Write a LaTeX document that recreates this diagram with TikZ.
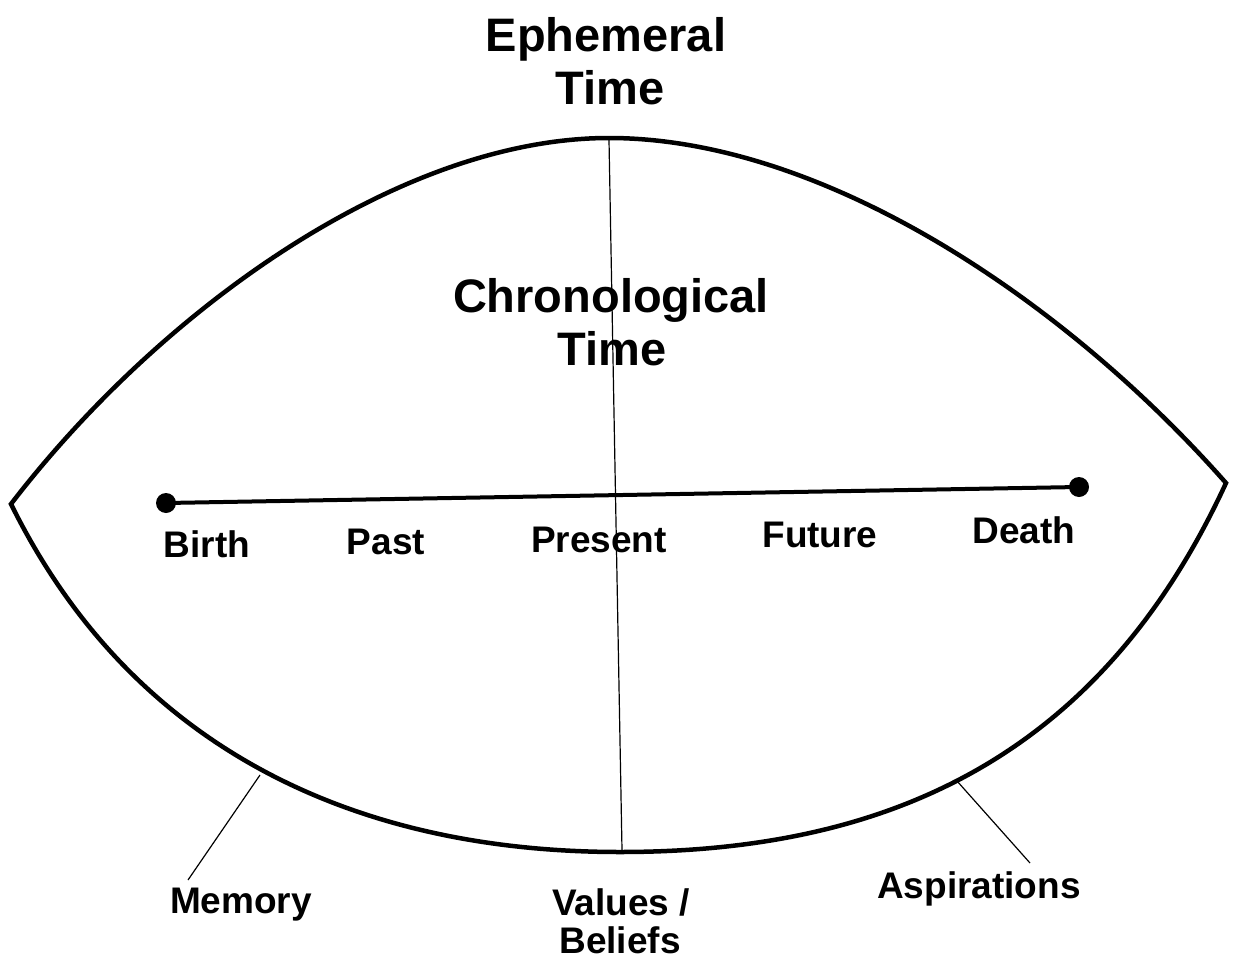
\documentclass[tikz,border=0pt]{standalone}
\usepackage{fontspec}
\setmainfont{Liberation Sans}
\begin{document}
\begin{tikzpicture}[x=1pt,y=-1pt,
  big/.style={font=\bfseries\fontsize{47}{53}\selectfont, inner sep=0pt, anchor=base},
  lab/.style={font=\bfseries\fontsize{37}{42}\selectfont, inner sep=0pt, anchor=base},
  outline/.style={line width=4.5pt, line join=miter},
  thin/.style={line width=1.2pt},
  dotn/.style={circle, fill=black, minimum size=20pt, inner sep=0pt}]
\useasboundingbox (0,0) rectangle (1235,961);
\fill[white] (0,0) rectangle (1235,961);
% tips and extremes
\coordinate (L) at (11,504);
\coordinate (R) at (1226,483);
\coordinate (T) at (609,138);
\coordinate (B) at (620,852);
% lens outline
\draw[outline] (L) .. controls (161,309) and (400,138) .. (T)
  .. controls (820,138) and (1061,296) .. (R)
  .. controls (1100,756) and (890,852) .. (B)
  .. controls (350,852) and (130,745) .. (L) -- cycle;
% vertical axis
\coordinate (vtop) at (609,140);
\coordinate (vbot) at (622,850);
\draw[thin] (vtop) -- (vbot);
% timeline
\node[dotn] (bdot) at (166,503) {};
\node[dotn] (ddot) at (1079,487) {};
\draw[line width=4pt] (bdot.center) -- (ddot.center);
% titles
\node[big] (eph) at (606,51) {Ephemeral};
\node[big] (eph2) at (610,104) {Time};
\node[big] (chr) at (611,312) {Chronological};
\node[big] (chr2) at (612,365) {Time};
% timeline labels
\node[lab] (birth) at (207,557) {Birth};
\node[lab] (past) at (386,554) {Past};
\node[lab] (present) at (599,552) {Present};
\node[lab] (future) at (820,547) {Future};
\node[lab] (death) at (1024,543) {Death};
% bottom labels
\node[lab] (memory) at (241,913) {Memory};
\node[lab] (values) at (621,915) {Values /};
\node[lab] (beliefs) at (620,953) {Beliefs};
\node[lab] (asp) at (979,898) {Aspirations};
% leader lines
\coordinate (m1) at (260,775);
\coordinate (m2) at (188,880);
\draw[thin] (m1) -- (m2);
\coordinate (a1) at (957,781);
\coordinate (a2) at (1030,863);
\draw[thin] (a1) -- (a2);
\end{tikzpicture}
\end{document}
